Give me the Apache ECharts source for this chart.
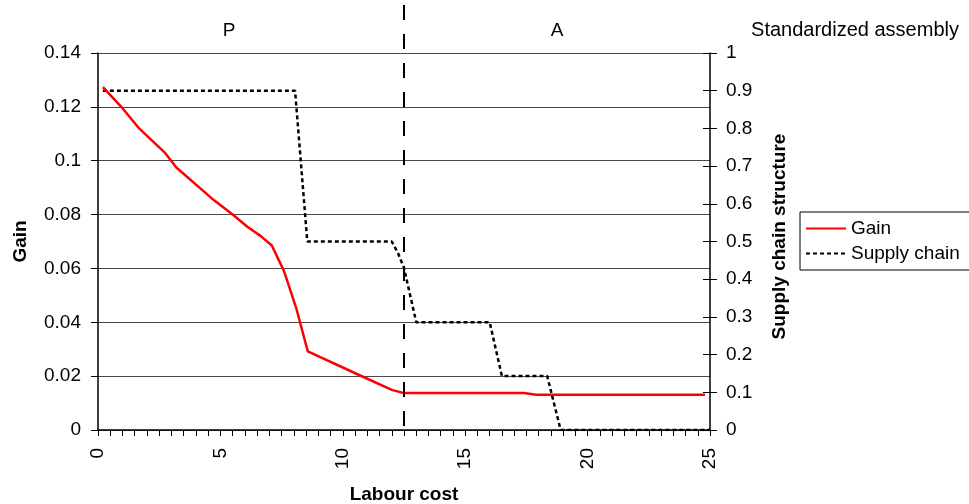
<!DOCTYPE html>
<html>
<head>
<meta charset="utf-8">
<title>Gain and supply chain structure vs labour cost</title>
<script src="https://cdn.jsdelivr.net/npm/echarts@6/dist/echarts.min.js"></script>
<style>
  html, body { margin: 0; padding: 0; background: #fff; }
  #chart { width: 969px; height: 504px; }
</style>
</head>
<body>
<div id="chart"></div>
<script>
// labour cost (x) and gain
const gainX = [0.2, 1.0, 1.7, 2.75, 3.2, 4.65, 5.5, 6.1, 6.65, 7.1, 7.6, 8.1, 8.57, 10.6, 12.0, 12.5, 17.4, 17.9, 24.8]
const gainY = [0.1273, 0.1195, 0.1118, 0.1028, 0.0975, 0.086, 0.08, 0.0755, 0.072, 0.0685, 0.059, 0.0452, 0.0292, 0.0207, 0.0149, 0.0137, 0.0137, 0.0131, 0.0131]
// supply chain structure (right axis), the dotted steps
const supplyX = [0.2, 8.05, 8.55, 12.0, 12.25, 12.5, 13.0, 16.0, 16.5, 18.35, 18.9, 25]
const supplyY = [0.9, 0.9, 0.5, 0.5, 0.47, 0.43, 0.286, 0.286, 0.143, 0.143, 0, 0]
const xTicks = [0, 5, 10, 15, 20, 25]
// P / A split and the labels above each region
const regionBorder = 12.5
const regionLabels = [{ text: 'P', x: 5.35 }, { text: 'A', x: 18.75 }]

const font = 'Liberation Sans, Arial, Helvetica, sans-serif'
const fs = 19

const chart = echarts.init(document.getElementById('chart'))

const pairs = (xs, ys) => xs.map((x, i) => [x, ys[i]])

const option = {
  animation: false,
  backgroundColor: '#fff',
  textStyle: { fontFamily: font },
  grid: { left: 98, right: 259, top: 53, bottom: 74, outerBoundsMode: 'none', containLabel: false },
  legend: {
    orient: 'vertical',
    left: 800,
    top: 212,
    padding: [5, 20, 5, 5],
    itemGap: 2,
    itemWidth: 40,
    itemHeight: 12,
    borderColor: '#000',
    borderWidth: 1,
    borderRadius: 0,
    itemStyle: { opacity: 0 },
    textStyle: { fontFamily: font, fontSize: fs, color: '#000', lineHeight: 23 },
    data: ['Gain', 'Supply chain']
  },
  xAxis: {
    type: 'value',
    min: 0,
    max: 25,
    interval: 0.5,
    name: 'Labour cost',
    nameLocation: 'middle',
    nameGap: 55,
    nameTextStyle: { fontFamily: font, fontSize: fs, fontWeight: 'bold', color: '#000' },
    axisLine: { show: true, onZero: false, lineStyle: { color: '#000', width: 1.5 } },
    axisTick: { show: true, length: 6, lineStyle: { color: '#000', width: 1 } },
    axisLabel: {
      rotate: 90,
      margin: 18,
      fontFamily: font,
      fontSize: fs,
      color: '#000',
      formatter: (v) => (xTicks.includes(v) ? String(v) : '')
    },
    splitLine: { show: false }
  },
  yAxis: [
    {
      type: 'value',
      position: 'left',
      min: 0,
      max: 0.14,
      interval: 0.02,
      name: 'Gain',
      nameLocation: 'middle',
      nameGap: 68,
      nameTextStyle: { fontFamily: font, fontSize: fs, fontWeight: 'bold', color: '#000' },
      axisLine: { show: true, lineStyle: { color: '#000', width: 1.5 } },
      axisTick: { show: true, length: 7, lineStyle: { color: '#000' } },
      axisLabel: { margin: 17, fontFamily: font, fontSize: fs, color: '#000' },
      splitLine: { show: true, lineStyle: { color: '#4a4a4a', width: 1 } }
    },
    {
      type: 'value',
      position: 'right',
      min: 0,
      max: 1,
      interval: 0.1,
      name: 'Supply chain structure',
      nameLocation: 'middle',
      nameGap: 60,
      nameRotate: 90,
      nameTextStyle: { fontFamily: font, fontSize: fs, fontWeight: 'bold', color: '#000', padding: [0, 0, 0, 10] },
      axisLine: { show: true, lineStyle: { color: '#000', width: 1.5 } },
      axisTick: { show: true, length: 7, lineStyle: { color: '#000' } },
      axisLabel: { margin: 16, fontFamily: font, fontSize: fs, color: '#000' },
      splitLine: { show: false }
    },
    {
      // inner half of the cross ticks on the right axis
      type: 'value',
      position: 'right',
      min: 0,
      max: 1,
      interval: 0.1,
      axisLine: { show: false },
      axisTick: { show: true, inside: true, length: 7, lineStyle: { color: '#000' } },
      axisLabel: { show: false },
      splitLine: { show: false }
    }
  ],
  series: [
    {
      name: 'Gain',
      type: 'line',
      yAxisIndex: 0,
      symbol: 'none',
      data: pairs(gainX, gainY),
      lineStyle: { color: '#ff0000', width: 2.5 },
      itemStyle: { color: '#ff0000' },
      z: 3
    },
    {
      name: 'Supply chain',
      type: 'line',
      yAxisIndex: 1,
      symbol: 'none',
      data: pairs(supplyX, supplyY),
      lineStyle: { color: '#000', width: 2.5, type: [4, 3] },
      itemStyle: { color: '#000' },
      z: 2
    }
  ]
}

chart.setOption(option)

// annotations placed through the chart's own scales
const borderPx = chart.convertToPixel({ xAxisIndex: 0 }, regionBorder)
const bottomPx = chart.convertToPixel({ yAxisIndex: 0 }, 0)
const topPx = chart.convertToPixel({ yAxisIndex: 0 }, 0.14)
const graphics = [
  {
    type: 'line',
    shape: { x1: borderPx, y1: 5, x2: borderPx, y2: bottomPx },
    style: { stroke: '#000', lineWidth: 2, lineDash: [15, 14] },
    z: 10
  },
  {
    type: 'text',
    x: 855,
    y: topPx - 23,
    style: { text: 'Standardized assembly', fontFamily: font, fontSize: 20, fill: '#000', align: 'center', verticalAlign: 'middle' }
  }
]
regionLabels.forEach((lab) => {
  graphics.push({
    type: 'text',
    x: chart.convertToPixel({ xAxisIndex: 0 }, lab.x),
    y: topPx - 22,
    style: { text: lab.text, fontFamily: font, fontSize: fs, fill: '#000', align: 'center', verticalAlign: 'middle' }
  })
})
chart.setOption({ graphic: graphics })
</script>
</body>
</html>
